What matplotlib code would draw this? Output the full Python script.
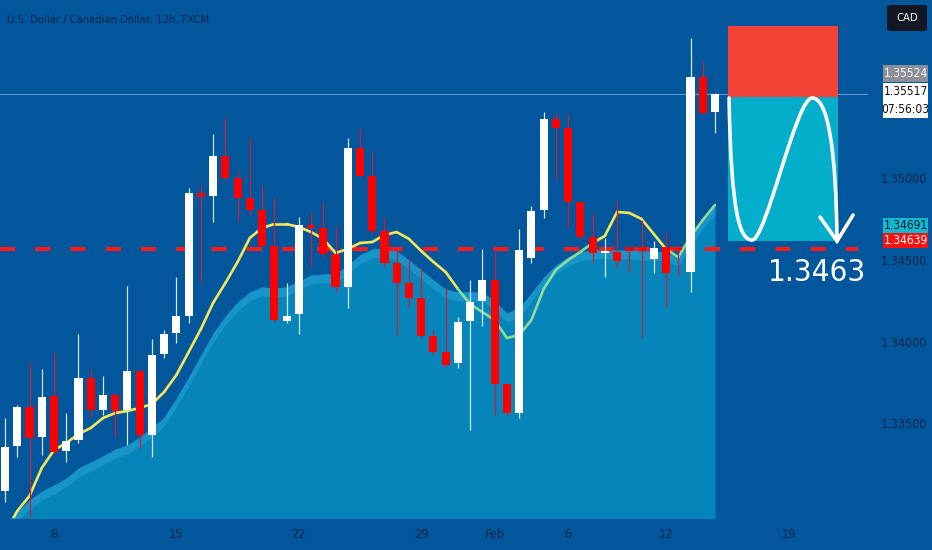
import matplotlib.pyplot as plt
import numpy as np
from matplotlib.patches import Rectangle, FancyBboxPatch, PathPatch
from matplotlib.path import Path
from matplotlib.collections import LineCollection

plt.rcParams['font.family'] = ['DejaVu Sans']
plt.rcParams['font.stretch'] = 'condensed'

# USD/CAD 12h candles
opens = [1.33086, 1.33362, 1.33601, 1.33417, 1.33668, 1.33331, 1.33399, 1.33778, 1.33582, 1.33674,
         1.33582, 1.33821, 1.33429, 1.33925, 1.34054, 1.34158, 1.34911, 1.34893, 1.35138, 1.35003,
         1.34881, 1.34807, 1.34587, 1.34127, 1.34170, 1.34715, 1.34697, 1.34538, 1.34336, 1.35187,
         1.35015, 1.34679, 1.34483, 1.34360, 1.34268, 1.34035, 1.33937, 1.33870, 1.34127, 1.34250,
         1.34378, 1.33742, 1.33564, 1.34513, 1.34807, 1.35364, 1.35309, 1.34856, 1.34642, 1.34544,
         1.34550, 1.34581, 1.34581, 1.34507, 1.34581, 1.34574, 1.34427, 1.35622, 1.35407]
highs = [1.33533, 1.33613, 1.33876, 1.33833, 1.33937, 1.33564, 1.34048, 1.33827, 1.33791, 1.33686,
         1.34342, 1.33827, 1.34017, 1.34072, 1.34397, 1.34942, 1.34960, 1.35273, 1.35377, 1.35040,
         1.35248, 1.34960, 1.34881, 1.34360, 1.34764, 1.34795, 1.34856, 1.34715, 1.35248, 1.35309,
         1.35162, 1.34764, 1.34562, 1.34519, 1.34458, 1.34072, 1.34336, 1.34152, 1.34378, 1.34568,
         1.34544, 1.33742, 1.34691, 1.34832, 1.35407, 1.35401, 1.35401, 1.34856, 1.34789, 1.34636,
         1.34868, 1.34581, 1.34746, 1.34617, 1.34672, 1.34593, 1.35860, 1.35713, 1.35524]
lows = [1.33019, 1.33294, 1.32927, 1.33307, 1.33319, 1.33264, 1.33380, 1.33539, 1.33552, 1.33417,
        1.33368, 1.33350, 1.33294, 1.33901, 1.33993, 1.34115, 1.34366, 1.34734, 1.34979, 1.34734,
        1.34776, 1.34581, 1.34121, 1.34115, 1.34048, 1.34458, 1.34519, 1.34305, 1.34207, 1.35009,
        1.34666, 1.34458, 1.34042, 1.34213, 1.34029, 1.33919, 1.33846, 1.33840, 1.33460, 1.34097,
        1.33552, 1.33552, 1.33533, 1.34483, 1.34758, 1.34991, 1.34703, 1.34636, 1.34483, 1.34397,
        1.34452, 1.34427, 1.34029, 1.34421, 1.34213, 1.34409, 1.34305, 1.35401, 1.35279]
closes = [1.33356, 1.33601, 1.33411, 1.33662, 1.33325, 1.33392, 1.33778, 1.33582, 1.33674, 1.33576,
          1.33821, 1.33429, 1.33919, 1.34048, 1.34158, 1.34911, 1.34887, 1.35138, 1.35003, 1.34881,
          1.34807, 1.34587, 1.34133, 1.34158, 1.34715, 1.34697, 1.34538, 1.34336, 1.35187, 1.35015,
          1.34679, 1.34483, 1.34360, 1.34268, 1.34035, 1.33937, 1.33858, 1.34121, 1.34244, 1.34378,
          1.33742, 1.33564, 1.34562, 1.34801, 1.35364, 1.35309, 1.34856, 1.34642, 1.34544, 1.34556,
          1.34495, 1.34556, 1.34556, 1.34574, 1.34421, 1.34562, 1.35622, 1.35401, 1.35517]

# moving average (yellow / green line)
ma = [1.32830, 1.32964, 1.33056, 1.33227, 1.33337, 1.33380, 1.33435, 1.33472, 1.33533, 1.33564,
      1.33576, 1.33595, 1.33619, 1.33693, 1.33797, 1.33937, 1.34078, 1.34238, 1.34360, 1.34489,
      1.34636, 1.34697, 1.34721, 1.34721, 1.34703, 1.34672, 1.34630, 1.34544, 1.34568, 1.34605,
      1.34611, 1.34654, 1.34672, 1.34630, 1.34556, 1.34489, 1.34427, 1.34323, 1.34231, 1.34182,
      1.34133, 1.34023, 1.34042, 1.34133, 1.34323, 1.34440, 1.34501, 1.34550, 1.34605, 1.34648,
      1.34795, 1.34789, 1.34752, 1.34660, 1.34568, 1.34519, 1.34642, 1.34746, 1.34838]
ma_state = [0] * 37 + [1] * 11 + [0] * 6 + [1] * 5

# shaded area indicator
area = [1.32890, 1.32958, 1.33031, 1.33086, 1.33123, 1.33166, 1.33227, 1.33264, 1.33301, 1.33343,
        1.33368, 1.33417, 1.33472, 1.33539, 1.33656, 1.33784, 1.33919, 1.34054, 1.34158, 1.34244,
        1.34305, 1.34336, 1.34329, 1.34336, 1.34372, 1.34409, 1.34415, 1.34415, 1.34470, 1.34532,
        1.34568, 1.34574, 1.34556, 1.34501, 1.34440, 1.34378, 1.34323, 1.34305, 1.34305, 1.34305,
        1.34250, 1.34176, 1.34207, 1.34299, 1.34397, 1.34470, 1.34519, 1.34550, 1.34562, 1.34568,
        1.34562, 1.34562, 1.34556, 1.34556, 1.34550, 1.34519, 1.34642, 1.34746, 1.34838]

date_pos = [4, 14, 24, 34, 40, 46, 54, 64]
date_labels = ['8', '15', '22', '29', 'Feb', '6', '12', '19']
price_ticks = [1.335, 1.340, 1.345, 1.350]

support = 1.34568          # red dashed line
support_label = '1.3463'
entry, stop, target = 1.35500, 1.35934, 1.34617
box_x0, box_x1 = 59.07, 68.06
last_high = 1.35524
last_price = 1.35517
tag_cyan = 1.34691
tag_red = 1.34639

BG = '#02569c'
AXTXT = '#0d2547'
W, H = 932, 550

def px(x, y):
    return x / W, 1 - y / H

fig = plt.figure(figsize=(W / 100, H / 100), dpi=100, facecolor=BG)
ax = fig.add_axes([0, 32 / H, 868 / W, 518 / H])
ax.set_facecolor(BG)

idx = np.arange(len(opens))

# area
ax.fill_between(idx, 1.32, area, color='#0585b9', lw=0, zorder=1)
ax.fill_between(idx, np.array(area) - 0.00055, area, color='#1795c9', lw=0, zorder=1.1)

# dashed support line
ax.plot([-0.41, 69.7], [support, support], color='#ff1a1a', lw=2.9,
        linestyle=(0, (3.75, 5)), zorder=2, solid_capstyle='butt')

# current price line
ax.axhline(last_price, color='#5c9ad4', lw=0.8, zorder=1.5)

# moving average
pts = np.column_stack([idx, ma])
segs = [pts[i:i + 2] for i in range(len(pts) - 1)]
seg_cols = ['#8fdc9a' if ma_state[i] else '#f3e85a' for i in range(len(pts) - 1)]
ax.add_collection(LineCollection(segs, colors=seg_cols, linewidths=1.9, zorder=3,
                                 capstyle='round', joinstyle='round'))

# candles
for i in idx:
    up = closes[i] >= opens[i]
    body_c = '#ffffff' if up else '#ff0000'
    wick_c = '#cfe6fa' if up else '#c8203a'
    ax.vlines(i, lows[i], highs[i], color=wick_c, lw=0.9, zorder=4)
    h = max(abs(closes[i] - opens[i]), 0.00007)
    ax.bar(i, h, bottom=min(opens[i], closes[i]), width=0.66, color=body_c, lw=0, zorder=5)

# short position tool
ax.add_patch(Rectangle((box_x0, entry), box_x1 - box_x0, stop - entry, color='#f44336', lw=0, zorder=6))
ax.add_patch(Rectangle((box_x0, target), box_x1 - box_x0, entry - target, color='#03aecb', lw=0, zorder=6))

wave = Path([(59.15, 1.35493), (59.31, 1.34776), (60.05, 1.34623), (61.03, 1.34623),
             (62.17, 1.34623), (64.62, 1.35493), (65.93, 1.35493),
             (67.24, 1.35493), (67.89, 1.35175), (67.97, 1.34617)],
            [Path.MOVETO] + [Path.CURVE4] * 9)
ax.add_patch(PathPatch(wave, fill=False, ec='white', lw=2.6, capstyle='round', zorder=7))
ax.plot([66.58, 67.97, 69.28], [1.34764, 1.34617, 1.34776], color='white', lw=2.6,
        solid_capstyle='round', solid_joinstyle='miter', zorder=7)

ax.text(66.3, 1.34422, support_label, color='white', fontsize=22.5, ha='center', va='center',
        zorder=8, fontweight='medium')

ax.set_xlim(-0.41, 70.5)
ax.set_ylim(1.32921, 1.36093)
for s in ax.spines.values():
    s.set_visible(False)
ax.yaxis.tick_right()
ax.set_yticks(price_ticks)
ax.set_yticklabels(['%.5f' % p for p in price_ticks])
ax.tick_params(axis='y', length=0, pad=9, labelsize=9, labelcolor=AXTXT)
ax.set_xticks(date_pos)
ax.set_xticklabels(date_labels)
ax.tick_params(axis='x', length=0, pad=7, labelsize=9, labelcolor=AXTXT)

fig.text(*px(7, 20), 'U.S. Dollar / Canadian Dollar, 12h, FXCM', color=AXTXT, fontsize=8,
         ha='left', va='center')

# price tags on the right
def tag(y0, y1, face, lines, tc):
    x0, yb = px(883, y1)
    fig.add_artist(Rectangle((x0, yb), 45 / W, (y1 - y0) / H, transform=fig.transFigure,
                             color=face, lw=0, zorder=5))
    n = len(lines)
    for k, s in enumerate(lines):
        yy = y0 + (y1 - y0) * (k + 0.5) / n
        fig.text(*px(905.5, yy), s, color=tc, fontsize=8.6, ha='center', va='center', zorder=6)

tag(65, 82, '#8a8f99', ['%.5f' % last_high], 'white')
tag(83, 118, '#ffffff', ['%.5f' % last_price, '07:56:03'], '#111111')
tag(218, 233, '#12b7d0', ['%.5f' % tag_cyan], '#0b1e30')
tag(233, 248, '#ff1010', ['%.5f' % tag_red], 'white')

fig.add_artist(FancyBboxPatch(px(887, 31), 40 / W, 26 / H, boxstyle='round,pad=0,rounding_size=0.004',
                              transform=fig.transFigure, fc='#131722', ec='none', zorder=5))
fig.text(*px(907, 18), 'CAD', color='white', fontsize=8, ha='center', va='center', zorder=6)

fig.savefig('out.png', dpi=100, facecolor=BG)
